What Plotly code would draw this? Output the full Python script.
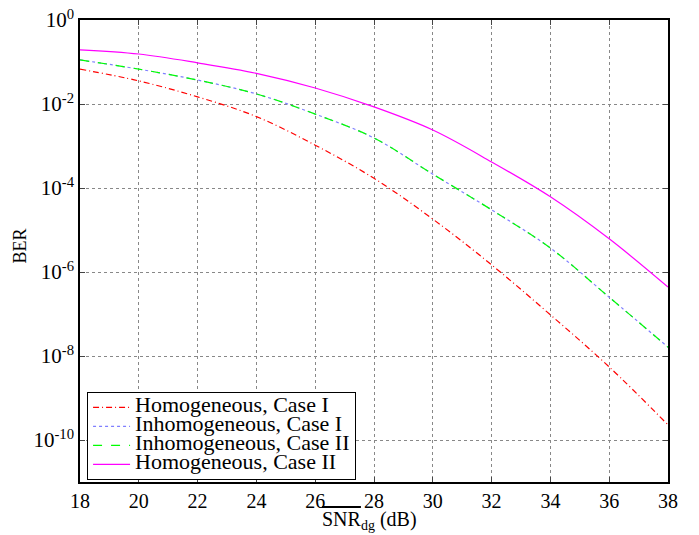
import plotly.graph_objects as go

snr = [18, 20, 22, 24, 26, 28, 30, 32, 34, 36, 38]
hom_case1_log = [-1.17, -1.45, -1.83, -2.30, -2.98, -3.77, -4.74, -5.83, -7.02, -8.26, -9.64]
inhom_case1_log = [-0.95, -1.17, -1.43, -1.76, -2.24, -2.81, -3.67, -4.52, -5.43, -6.60, -7.79]
inhom_case2_log = [-0.95, -1.17, -1.43, -1.76, -2.24, -2.81, -3.67, -4.52, -5.43, -6.60, -7.79]
hom_case2_log = [-0.71, -0.81, -1.02, -1.27, -1.62, -2.07, -2.62, -3.38, -4.21, -5.21, -6.36]

names = ["Homogeneous, Case I", "Inhomogeneous, Case I", "Inhomogeneous, Case II", "Homogeneous, Case II"]
series = [hom_case1_log, inhom_case1_log, inhom_case2_log, hom_case2_log]
colors = ["#ff0000", "#7f7fff", "#00ff00", "#ff00ff"]
dashes = ["6px,3px,1px,3px", "dot", "dash", "solid"]

ytick_exp = [0, -2, -4, -6, -8, -10]

font = "Liberation Serif"

fig = go.Figure()
for n, s, c, d in zip(names, series, colors, dashes):
    fig.add_trace(go.Scatter(
        x=snr, y=[10 ** v for v in s], mode="lines",
        name='<span style="font-size:22px">%s</span>' % n,
        line=dict(color=c, dash=d, width=1.2, shape="spline"),
    ))

# page body has an 8px margin, so the figure is shrunk by 8px and margins shifted
fig.update_layout(
    width=691, height=527,
    margin=dict(l=72, r=31, t=12, b=53),
    plot_bgcolor="white", paper_bgcolor="white",
    font=dict(family=font, size=19, color="black"),
    showlegend=True,
    legend=dict(
        x=0.012, y=0.195, xanchor="left", yanchor="top",
        bgcolor="white", bordercolor="black", borderwidth=1,
        font=dict(family=font, size=12), tracegroupgap=0, itemwidth=37,
    ),
    annotations=[
        dict(text='<span style="text-decoration:overline">SNR</span><sub>dg</sub> (dB)',
             xref="paper", yref="paper", x=0.408, y=-0.084, xanchor="left", yanchor="middle",
             align="left", showarrow=False, font=dict(family=font, size=20)),
        dict(text="BER", xref="paper", yref="paper", x=-0.102, y=0.51, textangle=-90,
             xanchor="center", yanchor="middle", showarrow=False, font=dict(family=font, size=18)),
    ],
)
fig.update_xaxes(
    range=[18, 38], tickvals=snr, ticks="inside", ticklen=5, mirror="allticks",
    showline=True, linecolor="black", linewidth=1.5, automargin=False,
    showgrid=True, gridcolor="#888888", griddash="dot", gridwidth=1,
    zeroline=False, tickfont=dict(size=20), ticklabeloverflow="allow",
)
fig.update_yaxes(
    type="log", range=[-11, 0],
    tickvals=[10 ** e for e in ytick_exp],
    ticktext=["10<sup>%d</sup>" % e for e in ytick_exp],
    ticks="inside", ticklen=5, mirror="allticks", automargin=False,
    showline=True, linecolor="black", linewidth=1.5,
    showgrid=True, gridcolor="#888888", griddash="dot", gridwidth=1,
    zeroline=False, tickfont=dict(size=21), ticklabeloverflow="allow",
)
fig.write_html("out.html")
